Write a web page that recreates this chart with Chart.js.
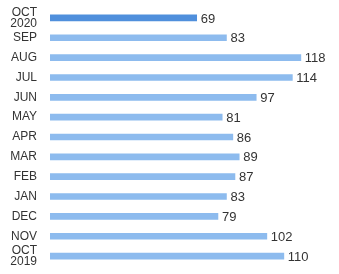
<!DOCTYPE html>
<html>
<head>
<meta charset="utf-8">
<script src="https://cdn.jsdelivr.net/npm/chart.js@4"></script>
<style>
  html, body { margin: 0; padding: 0; background: #fff; }
  #wrap { width: 339px; height: 274px; }
</style>
</head>
<body>
<div id="wrap"><canvas id="chartCanvas" width="339" height="274"></canvas></div>
<script>
const months = [['OCT', '2020'], 'SEP', 'AUG', 'JUL', 'JUN', 'MAY', 'APR', 'MAR', 'FEB', 'JAN', 'DEC', 'NOV', ['OCT', '2019']];
const counts = [69, 83, 118, 114, 97, 81, 86, 89, 87, 83, 79, 102, 110];

const barColors = counts.map((v, i) => i === 0 ? '#4f8fdc' : '#8dbbee');

// numbers drawn just past the end of each bar
const valueLabels = {
  id: 'valueLabels',
  afterDatasetsDraw(chart) {
    const ctx = chart.ctx;
    const meta = chart.getDatasetMeta(0);
    ctx.save();
    ctx.font = '13px "Liberation Sans", Arial, sans-serif';
    ctx.fillStyle = '#333';
    ctx.textBaseline = 'middle';
    meta.data.forEach((bar, i) => {
      ctx.fillText(counts[i], bar.x + 4, bar.y + 1);
    });
    ctx.restore();
  }
};

new Chart(document.getElementById('chartCanvas'), {
  type: 'bar',
  data: {
    labels: months,
    datasets: [{
      data: counts,
      backgroundColor: barColors,
      barThickness: 6,
      borderWidth: 0
    }]
  },
  options: {
    indexAxis: 'y',
    responsive: false,
    animation: false,
    layout: { padding: { top: 8, bottom: 8, right: 2, left: 0 } },
    plugins: { legend: { display: false }, tooltip: { enabled: false } },
    scales: {
      x: {
        min: 0,
        max: 135,
        display: false
      },
      y: {
        afterFit: (scale) => {
          scale.width = 50;
          scale.paddingTop = 0;
          scale.paddingBottom = 0;
        },
        grid: { display: false },
        border: { display: false },
        ticks: {
          autoSkip: false,
          color: '#333',
          padding: 5,
          font: { size: 12, family: '"Liberation Sans", Arial, sans-serif', lineHeight: 0.95 }
        }
      }
    }
  },
  plugins: [valueLabels]
});
</script>
</body>
</html>
